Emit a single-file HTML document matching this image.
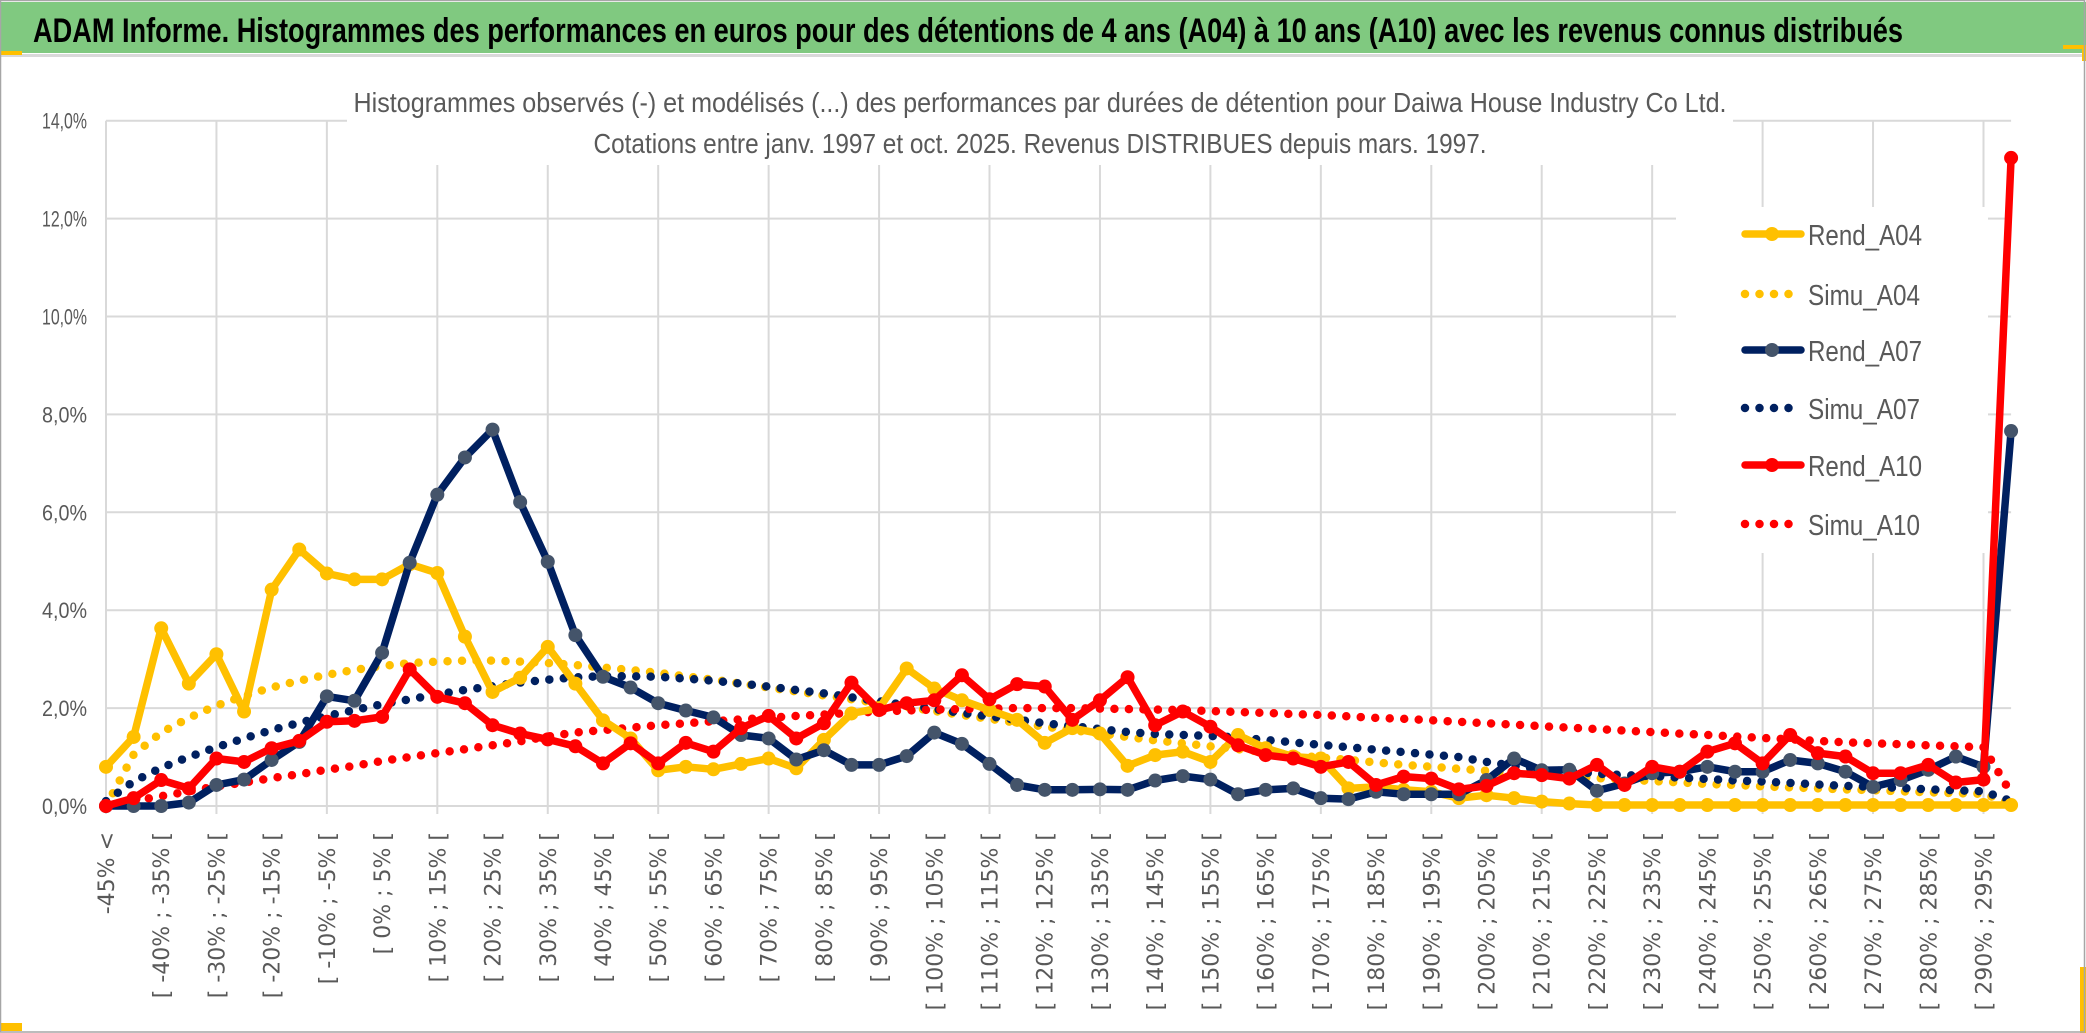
<!DOCTYPE html>
<html><head><meta charset="utf-8"><style>
html,body{margin:0;padding:0;background:#fff;width:2086px;height:1033px;overflow:hidden}
svg{display:block}
text{font-family:"Liberation Sans",sans-serif}
</style></head><body>
<svg id="chart" width="2086" height="1033" viewBox="0 0 2086 1033" xmlns="http://www.w3.org/2000/svg">
<rect x="0" y="0" width="2086" height="1033" fill="#fff"/>
<rect x="0" y="2" width="2086" height="51" fill="#80c980"/>
<rect x="0" y="54" width="2086" height="3" fill="#d9d9d9"/>
<rect x="0" y="51" width="22" height="4" fill="#ffc000"/>
<rect x="2063" y="45" width="23" height="4" fill="#ffc000"/>
<rect x="2082" y="45" width="4" height="16" fill="#ffc000"/>
<rect x="0" y="1023" width="22" height="8" fill="#ffc000"/>
<rect x="2080" y="967" width="6" height="66" fill="#ffc000"/>
<rect x="0.5" y="0.5" width="2084" height="1031.5" fill="none" stroke="#a6a6a6" stroke-width="1.5"/>
<text x="33" y="42" font-size="34" font-weight="bold" fill="#000" textLength="1870" lengthAdjust="spacingAndGlyphs">ADAM Informe. Histogrammes des performances en euros pour des détentions de 4 ans (A04) à 10 ans (A10) avec les revenus connus distribués</text>
<g id="grid"></g>
<rect x="347" y="60" width="1386" height="105" fill="#fff"/>
<text x="1040" y="112" font-size="28" fill="#595959" text-anchor="middle" textLength="1373" lengthAdjust="spacingAndGlyphs">Histogrammes observés (-) et modélisés (...) des performances par durées de détention pour Daiwa House Industry Co Ltd.</text>
<text x="1040" y="153" font-size="28" fill="#595959" text-anchor="middle" textLength="893" lengthAdjust="spacingAndGlyphs">Cotations entre janv. 1997 et oct. 2025. Revenus DISTRIBUES depuis mars. 1997.</text>
<rect x="1676" y="207" width="312" height="346" fill="#fff"/>
<g id="yaxis"></g>
<g id="xaxis"></g>
<g id="series"></g>
<g id="legend"></g>
</svg>
<script>
const yTicks = [0, 2, 4, 6, 8, 10, 12, 14];
const yTickLabels = ["0,0%", "2,0%", "4,0%", "6,0%", "8,0%", "10,0%", "12,0%", "14,0%"];
const categoryLows = [];
const rendA04 = [0.80,1.41,3.63,2.50,3.10,1.93,4.42,5.24,4.75,4.63,4.63,4.94,4.76,3.46,2.33,2.62,3.25,2.50,1.75,1.38,0.73,0.80,0.75,0.86,0.97,0.77,1.35,1.89,2.00,2.81,2.40,2.16,1.96,1.76,1.29,1.59,1.48,0.82,1.04,1.11,0.90,1.45,1.18,1.01,0.97,0.36,0.39,0.33,0.29,0.16,0.22,0.16,0.09,0.05,0.02,0.02,0.02,0.02,0.02,0.02,0.02,0.02,0.02,0.02,0.02,0.02,0.02,0.02,0.02,0.02];
const rendA07 = [0,0,0,0.07,0.43,0.54,0.94,1.31,2.24,2.15,3.13,4.97,6.36,7.12,7.69,6.21,4.99,3.49,2.64,2.42,2.10,1.95,1.81,1.45,1.38,0.95,1.14,0.84,0.84,1.02,1.50,1.27,0.86,0.43,0.33,0.33,0.34,0.33,0.52,0.61,0.54,0.24,0.33,0.36,0.16,0.14,0.29,0.24,0.24,0.24,0.53,0.97,0.73,0.74,0.31,0.46,0.67,0.70,0.80,0.70,0.70,0.94,0.87,0.70,0.39,0.53,0.74,1.01,0.80,7.66];
const rendA10 = [0,0.16,0.53,0.36,0.97,0.90,1.18,1.33,1.72,1.74,1.82,2.79,2.23,2.10,1.65,1.48,1.36,1.22,0.87,1.28,0.87,1.29,1.11,1.59,1.84,1.38,1.69,2.52,1.96,2.10,2.16,2.67,2.18,2.49,2.44,1.76,2.16,2.63,1.65,1.93,1.62,1.24,1.04,0.97,0.80,0.90,0.43,0.60,0.56,0.34,0.41,0.67,0.63,0.56,0.84,0.43,0.80,0.70,1.11,1.28,0.87,1.45,1.08,1.01,0.67,0.67,0.84,0.48,0.54,13.24];
const simuA04 = [0.0,1.05,1.5,1.8,2.05,2.25,2.42,2.56,2.68,2.78,2.86,2.92,2.95,2.97,2.97,2.95,2.92,2.88,2.83,2.78,2.72,2.65,2.58,2.5,2.42,2.34,2.26,2.18,2.1,2.02,1.94,1.86,1.78,1.7,1.62,1.55,1.48,1.41,1.34,1.28,1.22,1.16,1.1,1.04,0.99,0.94,0.89,0.84,0.8,0.76,0.72,0.68,0.64,0.6,0.57,0.54,0.51,0.48,0.45,0.43,0.4,0.38,0.36,0.34,0.32,0.3,0.28,0.26,0.25,0.05];
const simuA07 = [0.1,0.5,0.78,1.0,1.2,1.38,1.55,1.7,1.84,1.96,2.08,2.18,2.28,2.37,2.45,2.52,2.58,2.63,2.65,2.65,2.64,2.6,2.56,2.5,2.44,2.37,2.3,2.22,2.14,2.06,1.98,1.9,1.83,1.76,1.69,1.63,1.57,1.51,1.47,1.45,1.43,1.4,1.35,1.3,1.25,1.2,1.15,1.1,1.05,1.0,0.9,0.82,0.76,0.7,0.66,0.63,0.61,0.58,0.55,0.52,0.5,0.47,0.44,0.41,0.39,0.37,0.34,0.32,0.3,0.1];
const simuA10 = [0,0.1,0.2,0.3,0.4,0.48,0.57,0.65,0.74,0.82,0.92,1.0,1.08,1.16,1.24,1.32,1.42,1.5,1.55,1.6,1.65,1.69,1.73,1.77,1.8,1.84,1.87,1.9,1.93,1.95,1.97,1.98,1.99,2.0,2.0,2.0,1.99,1.98,1.97,1.96,1.94,1.92,1.9,1.88,1.86,1.83,1.8,1.78,1.75,1.72,1.69,1.66,1.63,1.6,1.57,1.54,1.51,1.48,1.45,1.42,1.39,1.36,1.33,1.3,1.28,1.26,1.24,1.22,1.2,0.26];

for (let k = 1; k < 70; k++) categoryLows.push(-45 + 5 * (k - 1));

const NS = "http://www.w3.org/2000/svg";
const X0 = 106, DX = 27.61, Y0 = 806, PX_PER_PCT = 48.95;
function xScale(i) { return X0 + DX * i; }
function yScale(v) { return Y0 - PX_PER_PCT * v; }
function mk(tag, parent) { const e = document.createElementNS(NS, tag); parent.appendChild(e); return e; }
function catLabel(i) {
  if (i === 0) return "-45% <";
  const lo = categoryLows[i - 1];
  return "[ " + lo + "% ; " + (lo + 5) + "% [";
}

const grid = document.getElementById("grid");
const xRight = xScale(rendA04.length - 1);
yTicks.forEach(function (t) {
  const l = mk("line", grid);
  
  
  l.setAttribute("x1", X0); l.setAttribute("x2", xRight);
  l.setAttribute("y1", yScale(t)); l.setAttribute("y2", yScale(t));
  l.setAttribute("stroke", "#d9d9d9"); l.setAttribute("stroke-width", "2");
});
for (let i = 0; i < rendA04.length; i += 4) {
  const l = mk("line", grid);
  
  
  l.setAttribute("x1", xScale(i)); l.setAttribute("x2", xScale(i));
  l.setAttribute("y1", yScale(14)); l.setAttribute("y2", Y0 + 8);
  l.setAttribute("stroke", "#d9d9d9"); l.setAttribute("stroke-width", "2");
}

const yaxis = document.getElementById("yaxis");
yTicks.forEach(function (t, k) {
  const tx = mk("text", yaxis);
  
  
  tx.setAttribute("x", 87); tx.setAttribute("y", yScale(t) + 8);
  tx.setAttribute("text-anchor", "end"); tx.setAttribute("font-size", "22");
  tx.setAttribute("fill", "#595959");
  tx.setAttribute("textLength", yTickLabels[k].length > 5 ? 54 : 45);
  tx.setAttribute("lengthAdjust", "spacingAndGlyphs");
  tx.textContent = yTickLabels[k];
});

const xaxis = document.getElementById("xaxis");
for (let i = 0; i < rendA04.length; i += 2) {
  const tx = mk("text", xaxis);
  
  
  const cx = xScale(i) + 8, cy = 832;
  tx.setAttribute("x", cx); tx.setAttribute("y", cy);
  tx.setAttribute("transform", "rotate(-90 " + cx + " " + cy + ")");
  tx.setAttribute("text-anchor", "end");
  tx.setAttribute("font-size", "22");
  tx.setAttribute("style", "font-family:'DejaVu Sans','Liberation Sans',sans-serif");
  tx.setAttribute("fill", "#595959");
  tx.textContent = catLabel(i);
}

const series = document.getElementById("series");
function pts(arr) { return arr.map(function (v, i) { return xScale(i).toFixed(1) + "," + yScale(v).toFixed(1); }).join(" "); }
function dotted(arr, color, name) {
  const p = mk("polyline", series);
  
  
  p.setAttribute("points", pts(arr));
  p.setAttribute("fill", "none"); p.setAttribute("stroke", color);
  p.setAttribute("stroke-width", "8.5"); p.setAttribute("stroke-linecap", "round");
  p.setAttribute("stroke-dasharray", "0 14.5");
}
function solid(arr, color, markerColor, name) {
  const g = mk("g", series);
  
  
  const p = mk("polyline", g);
  
  
  p.setAttribute("points", pts(arr));
  p.setAttribute("fill", "none"); p.setAttribute("stroke", color);
  p.setAttribute("stroke-width", "7.5"); p.setAttribute("stroke-linejoin", "round");
  arr.forEach(function (v, i) {
    const c = mk("circle", g);
    
    
    c.setAttribute("cx", xScale(i)); c.setAttribute("cy", yScale(v));
    c.setAttribute("r", "7"); c.setAttribute("fill", markerColor);
  });
}
dotted(simuA04, "#ffc000", "simu-a04-line");
dotted(simuA07, "#002060", "simu-a07-line");
dotted(simuA10, "#ff0000", "simu-a10-line");
solid(rendA04, "#ffc000", "#ffc000", "rend-a04");
solid(rendA07, "#002060", "#44546a", "rend-a07");
solid(rendA10, "#ff0000", "#ff0000", "rend-a10");

const legendNames = ["Rend_A04", "Simu_A04", "Rend_A07", "Simu_A07", "Rend_A10", "Simu_A10"];
const legendColors = ["#ffc000", "#ffc000", "#002060", "#002060", "#ff0000", "#ff0000"];
const legendMarkers = ["#ffc000", null, "#44546a", null, "#ff0000", null];
const legendRows = [234, 294, 350, 408, 465, 524];
const legend = document.getElementById("legend");
legendNames.forEach(function (nm, k) {
  const g = mk("g", legend);
  
  
  const y = legendRows[k];
  const l = mk("line", g);
  
  
  l.setAttribute("y1", y); l.setAttribute("y2", y);
  l.setAttribute("stroke", legendColors[k]);
  if (legendMarkers[k]) {
    l.setAttribute("x1", 1745); l.setAttribute("x2", 1801);
    l.setAttribute("stroke-width", "7.5"); l.setAttribute("stroke-linecap", "round");
    const c = mk("circle", g);
    
    
    c.setAttribute("cx", 1772); c.setAttribute("cy", y); c.setAttribute("r", "7");
    c.setAttribute("fill", legendMarkers[k]);
  } else {
    l.setAttribute("x1", 1745); l.setAttribute("x2", k === 5 ? 1802 : 1791);
    l.setAttribute("stroke-width", "8.5"); l.setAttribute("stroke-linecap", "round");
    l.setAttribute("stroke-dasharray", "0 14.5");
  }
  const t = mk("text", g);
  
  
  t.setAttribute("x", 1808); t.setAttribute("y", y + 11);
  t.setAttribute("font-size", "29"); t.setAttribute("fill", "#595959");
  t.setAttribute("textLength", nm.indexOf("Rend") === 0 ? 114 : 112);
  t.setAttribute("lengthAdjust", "spacingAndGlyphs");
  t.textContent = nm;
});
</script>
</body></html>
